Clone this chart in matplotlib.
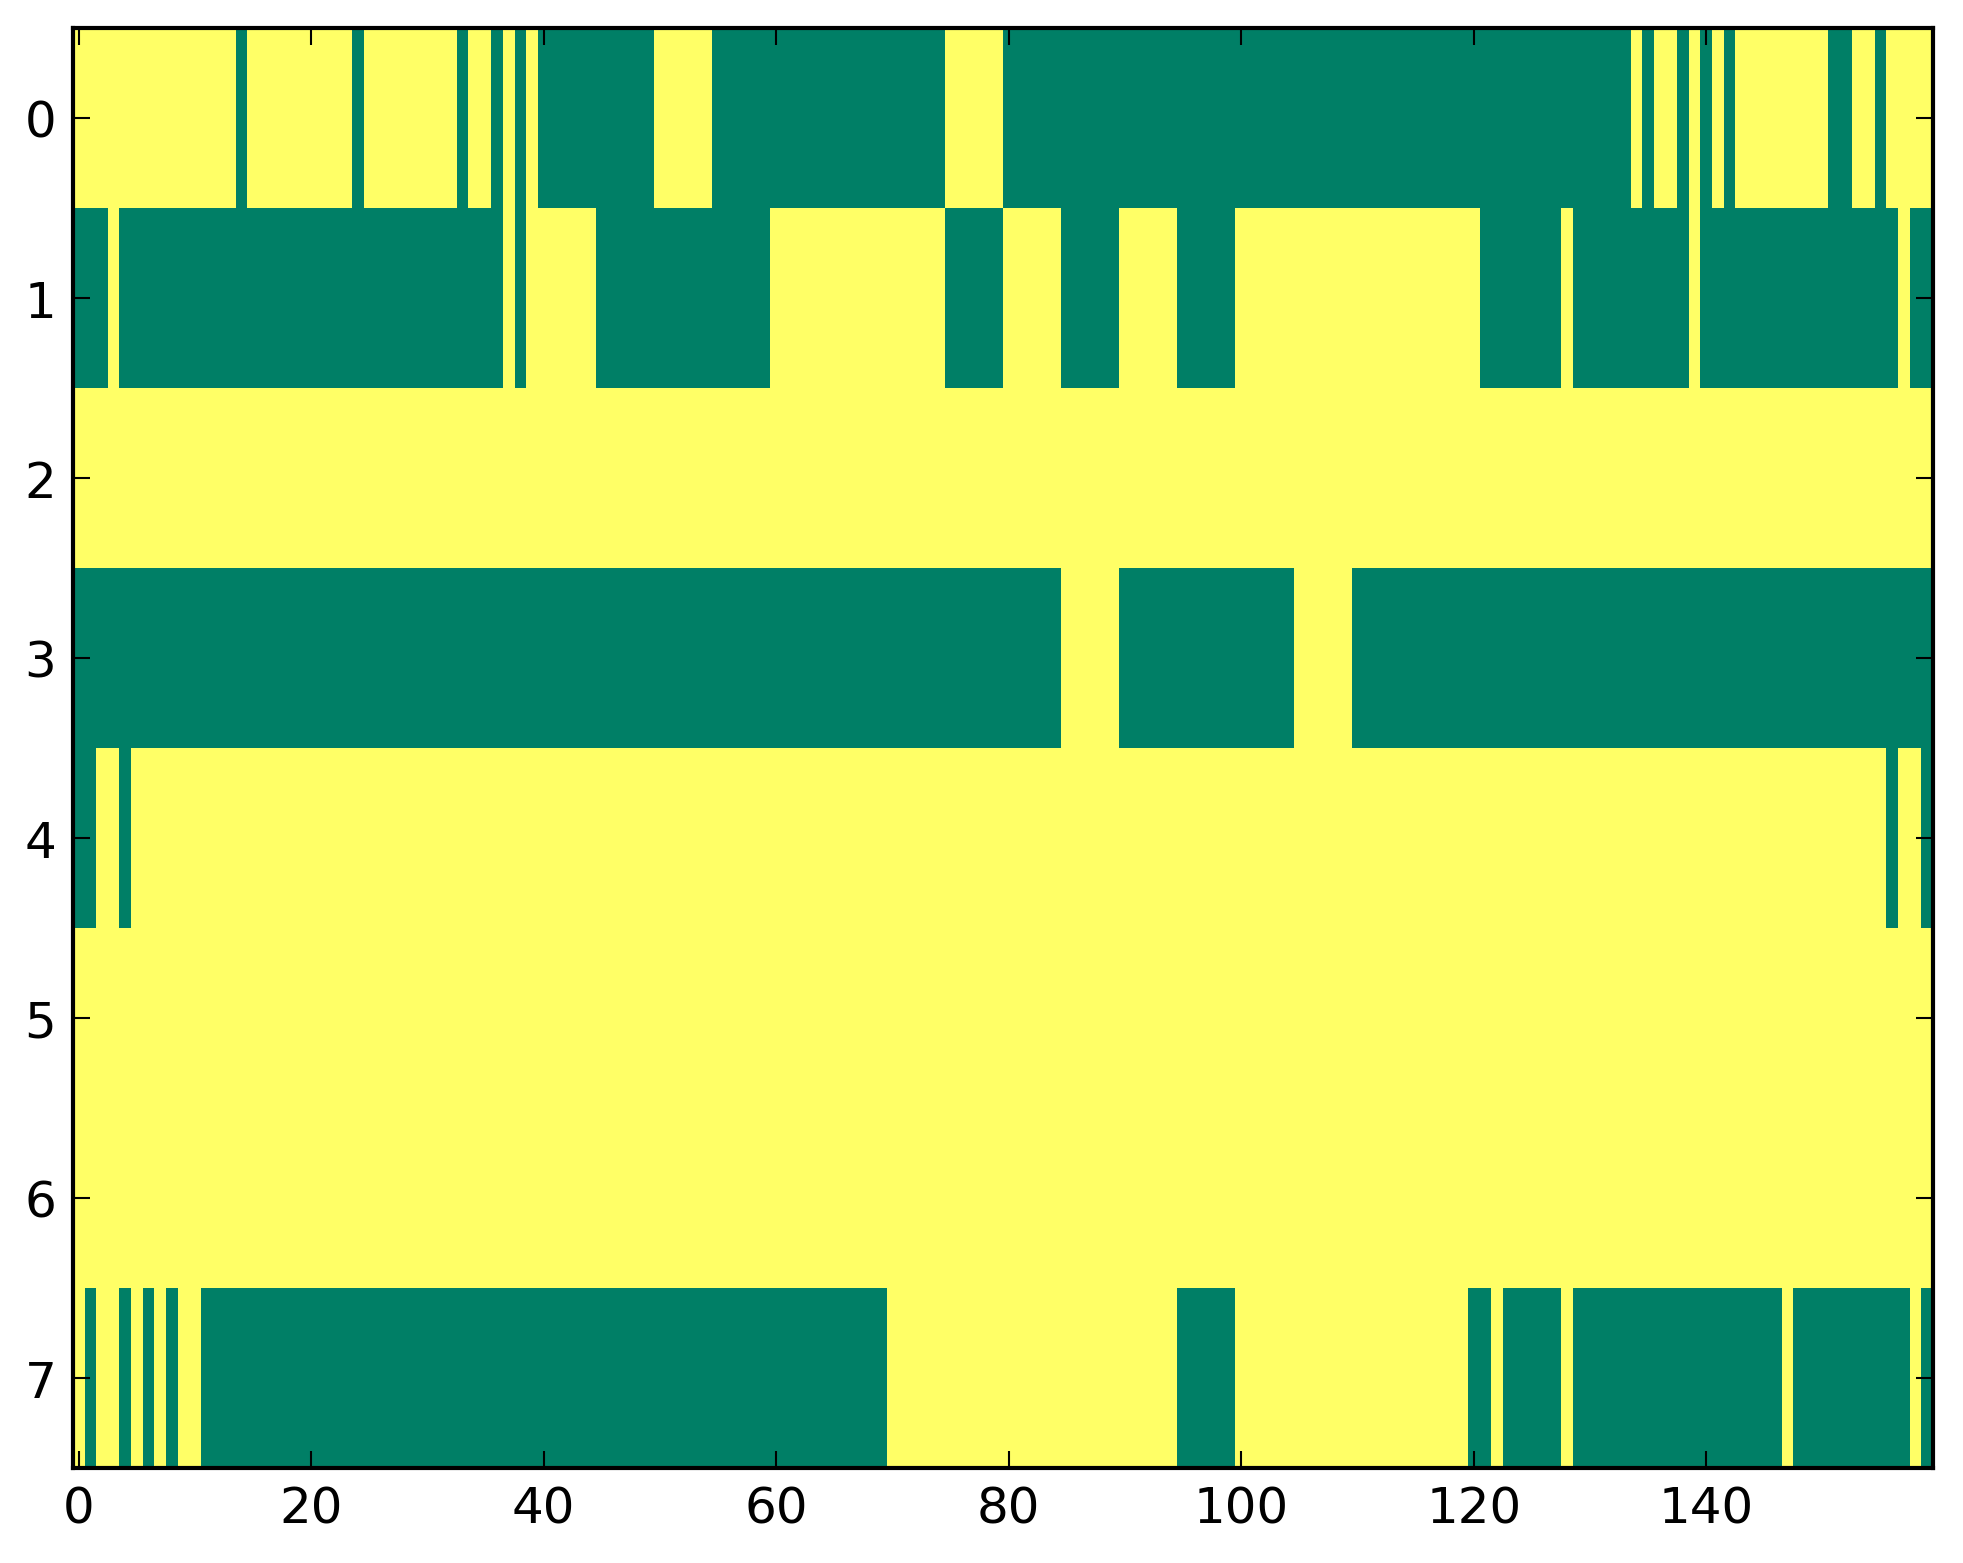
import numpy as np
import matplotlib
matplotlib.use("Agg")
import matplotlib.pyplot as plt

# Binary matrix, 8 rows x 160 columns, stored as (value, run length) per row.
# value 1 -> yellow, 0 -> green (summer colormap)
row0 = [(1, 14), (0, 1), (1, 9), (0, 1), (1, 8), (0, 1), (1, 2), (0, 1), (1, 1), (0, 1),
        (1, 1), (0, 10), (1, 5), (0, 20), (1, 5), (0, 54), (1, 1), (0, 1), (1, 2), (0, 1),
        (1, 1), (0, 1), (1, 1), (0, 1), (1, 8), (0, 2), (1, 2), (0, 1), (1, 4)]
row1 = [(0, 3), (1, 1), (0, 33), (1, 1), (0, 1), (1, 6), (0, 15), (1, 15), (0, 5), (1, 5),
        (0, 5), (1, 5), (0, 5), (1, 21), (0, 7), (1, 1), (0, 10), (1, 1), (0, 17), (1, 1),
        (0, 2)]
row2 = [(1, 160)]
row3 = [(0, 85), (1, 5), (0, 15), (1, 5), (0, 50)]
row4 = [(0, 2), (1, 2), (0, 1), (1, 151), (0, 1), (1, 2), (0, 1)]
row5 = [(1, 160)]
row6 = [(1, 160)]
row7 = [(1, 1), (0, 1), (1, 2), (0, 1), (1, 1), (0, 1), (1, 1), (0, 1), (1, 2), (0, 59),
        (1, 25), (0, 5), (1, 20), (0, 2), (1, 1), (0, 5), (1, 1), (0, 18), (1, 1), (0, 10),
        (1, 1), (0, 1)]

rows = [row0, row1, row2, row3, row4, row5, row6, row7]


def expand(runs):
    out = []
    for val, n in runs:
        out += [val] * n
    return out


data = np.array([expand(r) for r in rows], dtype=float)

plt.rcParams['font.family'] = 'DejaVu Sans'
W, H = 1963, 1564
fig = plt.figure(figsize=(W / 300, H / 300), dpi=300)
# axes box in pixels: left 73, right 1933, top 29, bottom 1469
ax = fig.add_axes([73 / W, 1 - 1469 / H, (1933 - 73) / W, (1469 - 29) / H])

ax.imshow(data, cmap='summer', aspect='auto', interpolation='nearest', vmin=0, vmax=1)

ax.set_xticks(np.arange(0, 160, 20))
ax.set_yticks(np.arange(0, 8))
ax.tick_params(direction='in', length=4, width=0.5, labelsize=12,
               top=True, right=True, pad=4)
for s in ax.spines.values():
    s.set_linewidth(1.0)

fig.savefig("out.png", dpi=300)
